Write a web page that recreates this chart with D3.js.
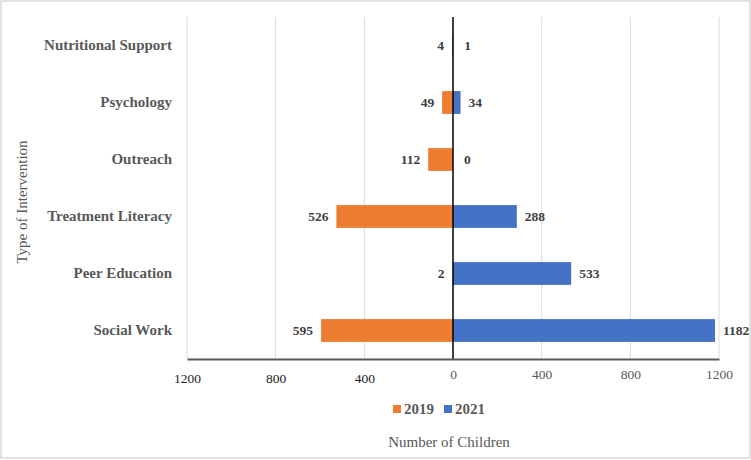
<!DOCTYPE html>
<html>
<head>
<meta charset="utf-8">
<script src="https://cdn.jsdelivr.net/npm/d3@7"></script>
<style>
  body { margin: 0; background: #fff; }
  svg text { font-family: "Liberation Serif", "Times New Roman", serif !important; }
</style>
</head>
<body>
<svg id="chart"></svg>
<script>
const categories = [
  "Nutritional Support",
  "Psychology",
  "Outreach",
  "Treatment Literacy",
  "Peer Education",
  "Social Work",
];
const values2019 = [4, 49, 112, 526, 2, 595];
const values2021 = [1, 34, 0, 288, 533, 1182];
const tickValues = [-1200, -800, -400, 0, 400, 800, 1200];
const seriesNames = ["2019", "2021"];

const width = 751;
const height = 460;
const margin = { top: 17, right: 32, bottom: 101, left: 187 };
const colors = { "2019": "#ED7D31", "2021": "#4472C4" };

const svg = d3.select("#chart").attr("width", width).attr("height", height);

// outer frame
svg
  .append("rect")
  .attr("x", 1)
  .attr("y", 1)
  .attr("width", width - 2)
  .attr("height", height - 3)
  .attr("fill", "#fff")
  .attr("stroke", "#d9d9d9")
  .attr("stroke-width", 1.5);

const x = d3
  .scaleLinear()
  .domain([-1200, 1200])
  .range([margin.left, width - margin.right]);

const y = d3
  .scaleBand()
  .domain(categories)
  .range([margin.top, height - margin.bottom])
  .paddingInner(0.6)
  .paddingOuter(0.3);

// gridlines
svg
  .append("g")
  .selectAll("line")
  .data(tickValues.filter((d) => d !== 0))
  .join("line")
  .attr("x1", (d) => x(d))
  .attr("x2", (d) => x(d))
  .attr("y1", margin.top)
  .attr("y2", height - margin.bottom)
  .attr("stroke", "#d9d9d9")
  .attr("stroke-width", 1);

const rows = categories.map((c, i) => ({
  cat: c,
  v2019: values2019[i],
  v2021: values2021[i],
}));

// 2019 bars to the left
svg
  .append("g")
  .selectAll("rect")
  .data(rows)
  .join("rect")
  .attr("x", (d) => x(-d.v2019))
  .attr("y", (d) => y(d.cat))
  .attr("width", (d) => x(0) - x(-d.v2019))
  .attr("height", y.bandwidth())
  .attr("fill", colors["2019"]);

// 2021 bars to the right
svg
  .append("g")
  .selectAll("rect")
  .data(rows)
  .join("rect")
  .attr("x", x(0))
  .attr("y", (d) => y(d.cat))
  .attr("width", (d) => x(d.v2021) - x(0))
  .attr("height", y.bandwidth())
  .attr("fill", colors["2021"]);

// value labels
const labelStyle = (sel) =>
  sel
    .attr("font-size", "13.5px")
    .attr("font-weight", "bold")
    .attr("fill", "#404040")
    .attr("dominant-baseline", "central");

svg
  .append("g")
  .selectAll("text")
  .data(rows)
  .join("text")
  .attr("x", (d) => x(-d.v2019) - 8)
  .attr("y", (d) => y(d.cat) + y.bandwidth() / 2)
  .attr("text-anchor", "end")
  .call(labelStyle)
  .text((d) => d.v2019);

svg
  .append("g")
  .selectAll("text")
  .data(rows)
  .join("text")
  .attr("x", (d) => x(d.v2021) + (d.v2021 < 10 ? 11 : 8))
  .attr("y", (d) => y(d.cat) + y.bandwidth() / 2)
  .attr("text-anchor", "start")
  .call(labelStyle)
  .text((d) => d.v2021);

// zero line
svg
  .append("line")
  .attr("x1", x(0))
  .attr("x2", x(0))
  .attr("y1", margin.top)
  .attr("y2", height - margin.bottom)
  .attr("stroke", "#000")
  .attr("stroke-width", 1.5);

// category axis labels
const yAxis = svg
  .append("g")
  .attr("transform", `translate(${margin.left - 15},0)`)
  .call(d3.axisLeft(y).tickSize(0).tickPadding(0));
yAxis.select(".domain").remove();
yAxis
  .selectAll("text")
  .attr("font-size", "15px")
  .attr("font-weight", "bold")
  .attr("fill", "#595959");

// bottom axis
const xAxis = svg
  .append("g")
  .attr("transform", `translate(0,${height - margin.bottom})`)
  .call(
    d3
      .axisBottom(x)
      .tickValues(tickValues)
      .tickSize(0)
      .tickPadding(10)
      .tickFormat((d) => Math.abs(d))
  );
xAxis.select(".domain").attr("stroke", "#595959").attr("stroke-width", 2);
xAxis
  .selectAll("text")
  .attr("font-size", "13.5px")
  .attr("fill", (d) => (d < 0 ? "#222" : "#595959"))
  .attr("dy", (d) => (d < 0 ? "1.05em" : "0.75em"));

// legend
const legend = svg
  .append("g")
  .attr("transform", `translate(393,${409})`);
const legendItems = legend
  .selectAll("g")
  .data(seriesNames)
  .join("g")
  .attr("transform", (d, i) => `translate(${i * 51},0)`);
legendItems
  .append("rect")
  .attr("x", 0)
  .attr("y", -4)
  .attr("width", 8)
  .attr("height", 8)
  .attr("fill", (d) => colors[d]);
legendItems
  .append("text")
  .attr("x", 11)
  .attr("y", 0)
  .attr("dominant-baseline", "central")
  .attr("font-size", "15px")
  .attr("font-weight", "bold")
  .attr("fill", "#595959")
  .text((d) => d);

// axis titles
svg
  .append("text")
  .attr("x", 449)
  .attr("y", 442)
  .attr("text-anchor", "middle")
  .attr("dominant-baseline", "central")
  .attr("font-size", "15px")
  .attr("fill", "#595959")
  .text("Number of Children");

svg
  .append("text")
  .attr("transform", "translate(22,202) rotate(-90)")
  .attr("text-anchor", "middle")
  .attr("dominant-baseline", "central")
  .attr("font-size", "15px")
  .attr("fill", "#595959")
  .text("Type of Intervention");
</script>
</body>
</html>
